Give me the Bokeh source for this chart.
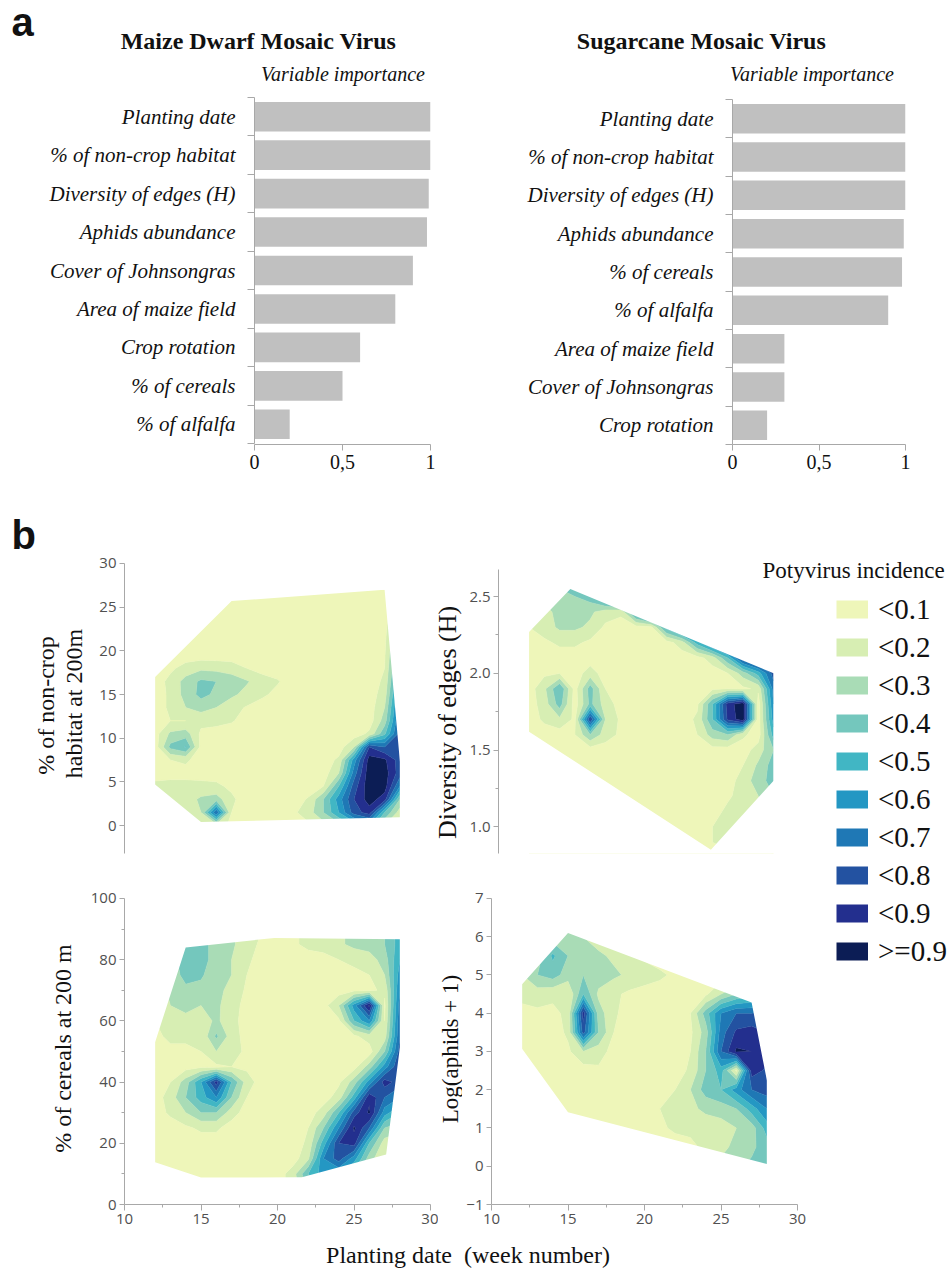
import numpy as np
from bokeh.plotting import figure
from bokeh.models import Range1d, FixedTicker, Label, Legend, LegendItem
from bokeh.layouts import column, row
from bokeh.core.properties import value
from bokeh.embed import file_html
from bokeh.resources import INLINE

SERIF = "Liberation Serif"
SANS = "Liberation Sans"
TICK_FONT = "Open Sans"
AXIS_GREY = "#a8a8a8"
TICK_TEXT = "#505050"
BAR_COLOR = "#c0c0c0"
INK = "#111111"

# ---------------- panel a : variable importance ----------------
mdmv_vars = ["Planting date", "% of non-crop habitat", "Diversity of edges (H)",
             "Aphids abundance", "Cover of Johnsongras", "Area of maize field",
             "Crop rotation", "% of cereals", "% of alfalfa"]
mdmv_imp = [1.0, 1.0, 0.99, 0.98, 0.90, 0.80, 0.60, 0.50, 0.20]

scmv_vars = ["Planting date", "% of non-crop habitat", "Diversity of edges (H)",
             "Aphids abundance", "% of cereals", "% of alfalfa",
             "Area of maize field", "Cover of Johnsongras", "Crop rotation"]
scmv_imp = [1.0, 1.0, 1.0, 0.99, 0.98, 0.90, 0.30, 0.30, 0.20]

imp_ticks = [0, 0.5, 1]
imp_tick_labels = ["0", "0,5", "1"]

# ---------------- panel b : potyvirus incidence ----------------
incid_levels = [0.0, 0.1, 0.2, 0.3, 0.4, 0.5, 0.6, 0.7, 0.8, 0.9, 1.01]
incid_labels = ["<0.1", "<0.2", "<0.3", "<0.4", "<0.5", "<0.6", "<0.7", "<0.8", "<0.9", ">=0.9"]
incid_colors = ["#eef6b9", "#d7eeb3", "#a9dcb6", "#74c7bd", "#41b6c4",
                "#2497c3", "#1f78b5", "#2352a1", "#232f8e", "#0c1d55"]

weeks = [12, 13, 14, 15, 16, 17, 18, 19, 20, 21, 22, 23, 24, 25, 26, 27, 28]

# incidence (%) read on a week x covariate grid, rows listed from top to bottom
noncrop_y = [27, 25.5, 24, 22.5, 21, 19.5, 18, 16.5, 15, 13.5, 12, 10.5, 9, 7.5, 6, 4.5, 3, 1.5, 0]
noncrop_z = [
    [5, 5, 5, 5, 5, 5, 5, 5, 5, 5, 5, 5, 5, 5, 5, 5, 12],
    [5, 5, 5, 5, 5, 5, 5, 5, 5, 5, 5, 5, 5, 5, 5, 5, 18],
    [5, 5, 5, 5, 5, 5, 5, 5, 5, 5, 5, 5, 5, 5, 5, 6, 24],
    [5, 5, 5, 5, 5, 5, 5, 5, 5, 5, 5, 5, 5, 5, 5, 7, 30],
    [5, 5, 5, 5, 5, 5, 5, 5, 5, 5, 5, 5, 5, 5, 5, 8, 37],
    [5, 5, 5, 5, 5, 5, 5, 5, 5, 5, 5, 5, 5, 5, 5, 9, 44],
    [5, 8, 14, 18, 17, 15, 10, 6, 5, 5, 5, 5, 5, 5, 5, 10, 50],
    [5, 13, 24, 32, 30, 26, 21, 15, 11, 5, 5, 5, 5, 5, 5, 12, 57],
    [5, 12, 24, 33, 28, 22, 17, 12, 7, 5, 5, 5, 5, 5, 5, 15, 63],
    [5, 12, 20, 24, 20, 14, 9, 5, 5, 5, 5, 5, 5, 5, 5, 20, 68],
    [5, 10, 10, 13, 14, 11, 6, 5, 5, 5, 5, 5, 5, 5, 5, 25, 72],
    [6, 22, 25, 8, 5, 5, 5, 5, 5, 5, 5, 5, 5, 5, 12, 38, 75],
    [5, 33, 41, 7, 5, 5, 5, 5, 5, 5, 5, 5, 5, 20, 80, 70, 75],
    [5, 10, 12, 5, 5, 5, 5, 5, 5, 5, 5, 5, 12, 55, 95, 92, 75],
    [7, 6, 6, 6, 6, 5, 5, 5, 5, 5, 5, 5, 20, 65, 97, 95, 75],
    [12, 14, 14, 13, 12, 8, 5, 5, 5, 5, 5, 10, 40, 75, 97, 95, 60],
    [10, 13, 15, 22, 25, 12, 5, 5, 5, 5, 11, 30, 55, 80, 95, 85, 30],
    [8, 10, 12, 20, 70, 10, 5, 5, 5, 8, 15, 30, 50, 75, 85, 40, 15],
    [5, 5, 8, 12, 15, 8, 5, 5, 5, 5, 8, 15, 25, 40, 50, 20, 8],
]
noncrop_hull_x = [12, 17, 27, 28, 28, 15, 12]
noncrop_hull_y = [17, 25.7, 27, 7.3, 0.95, 0.4, 4.7]

edges_y = [2.6, 2.5, 2.4, 2.3, 2.2, 2.1, 2.0, 1.9, 1.8, 1.7, 1.6, 1.5, 1.4, 1.3, 1.2, 1.1, 1.0, 0.9, 0.8]
edges_z = [
    [30, 30, 35, 40, 45, 50, 60, 70, 80, 90, 95, 100, 100, 100, 100, 100, 100],
    [25, 25, 25, 30, 35, 55, 80, 85, 90, 95, 100, 100, 100, 100, 100, 100, 100],
    [15, 15, 25, 25, 22, 15, 12, 50, 80, 90, 95, 100, 100, 100, 100, 100, 100],
    [10, 15, 22, 22, 18, 8, 6, 6, 8, 45, 70, 90, 95, 100, 100, 100, 100],
    [6, 8, 12, 12, 8, 5, 5, 5, 5, 6, 15, 45, 70, 90, 95, 100, 100],
    [5, 5, 5, 5, 5, 5, 5, 5, 5, 5, 5, 6, 15, 40, 80, 95, 100],
    [5, 8, 10, 5, 15, 5, 5, 5, 5, 5, 5, 5, 5, 10, 25, 45, 75],
    [5, 18, 40, 6, 35, 10, 5, 5, 5, 5, 5, 5, 8, 10, 8, 12, 65],
    [5, 15, 35, 5, 33, 15, 6, 5, 5, 5, 5, 8, 40, 85, 97, 5, 60],
    [5, 12, 18, 8, 80, 20, 8, 5, 5, 5, 5, 12, 40, 82, 97, 5, 55],
    [5, 5, 5, 10, 30, 15, 8, 5, 5, 5, 5, 10, 25, 30, 12, 5, 45],
    [5, 5, 5, 5, 5, 5, 5, 5, 5, 5, 5, 5, 6, 5, 5, 15, 30],
    [5, 5, 5, 5, 5, 5, 5, 5, 5, 5, 5, 5, 5, 5, 10, 22, 35],
    [5, 5, 5, 5, 5, 5, 5, 5, 5, 5, 5, 5, 5, 5, 15, 25, 35],
    [5, 5, 5, 5, 5, 5, 5, 5, 5, 5, 5, 5, 5, 8, 15, 20, 30],
    [5, 5, 5, 5, 5, 5, 5, 5, 5, 5, 5, 5, 5, 13, 15, 18, 25],
    [5, 5, 5, 5, 5, 5, 5, 5, 5, 5, 5, 5, 10, 12, 15, 15, 20],
    [5, 5, 5, 5, 5, 5, 5, 5, 5, 5, 5, 6, 10, 12, 12, 12, 15],
    [5, 5, 5, 5, 5, 5, 5, 5, 5, 5, 5, 5, 8, 8, 8, 8, 8],
]
edges_hull_x = [12, 14.7, 28, 28, 23.9, 12]
edges_hull_y = [2.27, 2.55, 2.0, 1.3, 0.85, 1.62]

cereals_y = [90, 85, 80, 75, 70, 65, 60, 55, 50, 45, 40, 35, 30, 25, 20, 15, 10, 5]
cereals_z = [
    [20, 28, 36, 34, 26, 22, 14, 10, 5, 8, 13, 15, 18, 23, 25, 30, 45],
    [20, 28, 36, 34, 26, 22, 14, 8, 5, 8, 13, 15, 18, 23, 25, 30, 45],
    [15, 25, 36, 35, 25, 20, 12, 6, 5, 5, 5, 6, 10, 12, 15, 25, 50],
    [15, 25, 33, 32, 22, 20, 10, 5, 5, 5, 5, 5, 5, 8, 10, 20, 55],
    [15, 22, 28, 26, 22, 18, 8, 5, 5, 5, 5, 5, 5, 8, 8, 12, 60],
    [12, 20, 22, 20, 22, 15, 6, 5, 5, 5, 5, 6, 20, 55, 93, 8, 65],
    [10, 18, 18, 15, 22, 14, 5, 5, 5, 5, 5, 5, 8, 40, 60, 10, 68],
    [8, 12, 12, 12, 32, 15, 6, 5, 5, 5, 5, 5, 5, 8, 15, 15, 70],
    [6, 8, 8, 10, 20, 14, 8, 5, 5, 5, 5, 5, 5, 6, 5, 30, 75],
    [5, 5, 6, 8, 8, 10, 8, 5, 5, 5, 5, 5, 5, 6, 25, 55, 80],
    [5, 10, 25, 50, 85, 40, 15, 5, 5, 5, 5, 5, 8, 25, 55, 85, 75],
    [5, 15, 30, 45, 60, 30, 10, 5, 5, 5, 5, 5, 15, 45, 88, 70, 60],
    [5, 12, 20, 30, 30, 15, 5, 5, 5, 5, 5, 15, 40, 75, 92, 55, 40],
    [5, 5, 8, 12, 12, 5, 5, 5, 5, 5, 10, 30, 60, 92, 70, 30, 25],
    [5, 5, 5, 5, 5, 5, 5, 5, 5, 5, 12, 45, 80, 85, 40, 15, 10],
    [5, 5, 5, 5, 5, 5, 5, 5, 5, 5, 18, 60, 75, 55, 25, 10, 8],
    [5, 5, 5, 5, 5, 5, 5, 5, 5, 15, 40, 55, 50, 35, 15, 8, 5],
    [5, 5, 5, 5, 5, 5, 5, 5, 5, 15, 30, 40, 40, 25, 10, 5, 5],
]
cereals_hull_x = [12, 14, 19.8, 28, 28, 27.1, 21.6, 15, 12]
cereals_hull_y = [53, 84, 87.1, 86.7, 51.4, 16.3, 8.9, 8.8, 13.8]

aphids_y = [6.5, 6.0, 5.5, 5.0, 4.5, 4.0, 3.5, 3.0, 2.5, 2.0, 1.5, 1.0, 0.5, 0.0]
aphids_z = [
    [10, 15, 25, 28, 20, 15, 10, 8, 5, 5, 5, 5, 5, 5, 5, 5, 5],
    [10, 15, 25, 28, 20, 15, 12, 8, 5, 5, 5, 5, 5, 5, 5, 5, 5],
    [12, 25, 42, 30, 25, 22, 18, 12, 8, 5, 5, 5, 5, 5, 5, 5, 5],
    [20, 30, 35, 25, 30, 25, 22, 18, 15, 12, 8, 5, 5, 5, 5, 5, 5],
    [15, 15, 12, 10, 40, 18, 12, 8, 6, 5, 5, 5, 8, 20, 30, 35, 40],
    [5, 8, 8, 12, 85, 25, 12, 5, 5, 5, 5, 10, 35, 60, 70, 70, 75],
    [5, 5, 5, 12, 75, 30, 10, 5, 5, 5, 5, 8, 25, 65, 82, 85, 80],
    [5, 5, 5, 8, 20, 15, 6, 5, 5, 5, 5, 10, 30, 70, 92, 90, 85],
    [5, 5, 5, 5, 5, 8, 5, 5, 5, 5, 5, 12, 30, 45, 8, 85, 78],
    [5, 5, 5, 5, 5, 5, 5, 5, 5, 6, 10, 20, 35, 40, 55, 70, 75],
    [5, 5, 5, 5, 5, 5, 5, 5, 5, 10, 15, 18, 22, 25, 30, 45, 60],
    [5, 5, 5, 5, 5, 5, 5, 5, 5, 8, 12, 12, 15, 15, 20, 25, 45],
    [5, 5, 5, 5, 5, 5, 5, 5, 5, 5, 5, 8, 12, 18, 22, 28, 35],
    [5, 5, 5, 5, 5, 5, 5, 5, 5, 5, 5, 8, 15, 22, 28, 32, 38],
]
aphids_hull_x = [12, 15, 27, 28, 28, 15, 12]
aphids_hull_y = [4.76, 6.1, 4.28, 2.24, 0.06, 1.41, 3.07]


# ---------------- helpers ----------------
def text_fig(W, H, bottom=0):
    # frame = whole canvas except an optional bottom border (kept equal to the row's plots)
    p = figure(width=W, height=H, x_range=Range1d(0, W), y_range=Range1d(0, H - bottom),
               x_axis_type=None, y_axis_type=None, min_border=0, min_border_bottom=bottom,
               output_backend="svg", toolbar_location=None)
    p.outline_line_color = None
    return p


def label(p, x, y, text, size, font=SERIF, style="normal", align="center", angle=0.0, color=INK):
    p.add_layout(Label(x=x, y=y, text=text, text_font=font, text_font_size=size,
                       text_font_style=style, text_align=align, text_baseline="middle",
                       angle=angle, text_color=color))


def bar_panel(vars_, imp, yr, W, H, left, fw, top, fh):
    n = len(vars_)
    centers = [n - 0.5 - i for i in range(n)]
    p = figure(width=W, height=H, x_range=Range1d(0, 1), y_range=Range1d(*yr),
               min_border_left=left, min_border_right=W - left - fw,
               min_border_top=top, min_border_bottom=H - top - fh,
               output_backend="svg", toolbar_location=None)
    p.hbar(y=centers, left=0, right=imp, height=0.77, fill_color=BAR_COLOR, line_color=None)
    p.grid.visible = False
    p.outline_line_color = None
    ya = p.yaxis[0]
    ya.ticker = FixedTicker(ticks=centers, minor_ticks=list(range(n + 1)))
    ya.bounds = (0, n)
    ya.major_label_overrides = {c: v for c, v in zip(centers, vars_)}
    ya.major_tick_line_color = None
    ya.major_tick_out = 0
    ya.major_tick_in = 0
    ya.minor_tick_out = 7
    ya.minor_tick_in = 0
    ya.minor_tick_line_color = AXIS_GREY
    ya.axis_line_color = AXIS_GREY
    ya.major_label_standoff = 12
    ya.major_label_text_font = SERIF
    ya.major_label_text_font_style = "italic"
    ya.major_label_text_font_size = "21px"
    ya.major_label_text_color = INK
    xa = p.xaxis[0]
    xa.ticker = FixedTicker(ticks=imp_ticks)
    xa.major_label_overrides = dict(zip(imp_ticks, imp_tick_labels))
    xa.major_tick_out = 6
    xa.major_tick_in = 0
    xa.major_tick_line_color = AXIS_GREY
    xa.axis_line_color = AXIS_GREY
    xa.major_label_standoff = 4
    xa.major_label_text_font = SERIF
    xa.major_label_text_font_size = "20px"
    xa.major_label_text_color = INK
    return p


def style_axis(ax, ticks, minor=None, labels=None, bounds=None):
    ax.ticker = FixedTicker(ticks=ticks, minor_ticks=minor or [])
    if labels is not None:
        ax.major_label_overrides = dict(zip(ticks, labels))
    if bounds is not None:
        ax.bounds = bounds
    ax.axis_line_color = AXIS_GREY
    ax.major_tick_line_color = AXIS_GREY
    ax.minor_tick_line_color = AXIS_GREY
    ax.major_tick_out = 5
    ax.major_tick_in = 0
    ax.minor_tick_out = 3
    ax.minor_tick_in = 0
    ax.major_label_standoff = 3
    ax.major_label_text_font = TICK_FONT
    ax.major_label_text_font_size = "15px"
    ax.major_label_text_color = TICK_TEXT


def contour_panel(ys_top_down, zpct, hull_x, hull_y, xr, yr, W, H, left, fw, top, fh, show_x):
    p = figure(width=W, height=H, x_range=Range1d(*xr), y_range=Range1d(*yr),
               min_border_left=left, min_border_right=W - left - fw,
               min_border_top=top, min_border_bottom=H - top - fh,
               output_backend="svg", toolbar_location=None)
    p.grid.visible = False
    p.outline_line_color = None
    yv = np.array(ys_top_down[::-1], dtype=float)
    zv = np.array(zpct[::-1], dtype=float) / 100.0
    p.contour(np.array(weeks, dtype=float), yv, zv, incid_levels,
              fill_color=incid_colors,
              line_color=[incid_colors[0]] + incid_colors, line_width=0.6)
    x0, x1 = xr
    y0, y1 = yr
    dx, dy = x1 - x0, y1 - y0
    outer_x = [x0 - dx, x1 + dx, x1 + dx, x0 - dx]
    outer_y = [y0 - dy, y0 - dy, y1 + dy, y1 + dy]
    p.multi_polygons(xs=[[[outer_x, list(hull_x)]]], ys=[[[outer_y, list(hull_y)]]],
                     fill_color="white", line_color=None)
    if not show_x:
        p.xaxis.visible = False
    else:
        style_axis(p.xaxis[0], [10, 15, 20, 25, 30], [12.5, 17.5, 22.5, 27.5], bounds=(10, 30))
        p.xaxis[0].major_tick_out = 6
    return p


def swatch_items(p, idx):
    # legend-only renderers: a single NaN point, so nothing is drawn in the plot itself
    items = []
    for i in idx:
        r = p.line(x=[np.nan], y=[np.nan], line_color=incid_colors[i], line_width=18)
        items.append(LegendItem(label=value(incid_labels[i]), renderers=[r]))
    return items


def swatch_legend(items, loc):
    return Legend(items=items, location=loc, orientation="vertical",
                  glyph_width=32, glyph_height=38, label_height=38, label_width=20,
                  label_standoff=10, spacing=0, padding=0, margin=0,
                  border_line_color=None, background_fill_alpha=0,
                  label_text_font=SERIF, label_text_font_size="29px",
                  label_text_color=INK)


# ---------------- header (panel a titles) ----------------
header = text_fig(950, 90)
label(header, 11, 69, "a", "40px", font=SANS, style="bold", align="left")
label(header, 258, 49.7, "Maize Dwarf Mosaic Virus", "24px", style="bold")
label(header, 342.5, 16.8, "Variable importance", "20px", style="italic")
label(header, 701, 49.7, "Sugarcane Mosaic Virus", "24px", style="bold")
label(header, 811.5, 16.8, "Variable importance", "20px", style="italic")

# ---------------- panel a (both frames span y 97..444 of the page) ----------------
barL = bar_panel(mdmv_vars, mdmv_imp, (-0.026, 9), 475, 410, 254, 176, 7, 347)
barR = bar_panel(scmv_vars, scmv_imp, (0, 9.052), 475, 410, 257, 173, 7, 347)

# ---------------- panel b, top row (frames span y 500..853) ----------------
txt_tl = text_fig(95, 360, bottom=7)
label(txt_tl, 11, 318.6, "b", "40px", font=SANS, style="bold", align="left")
label(txt_tl, 45, 148, "% of non-crop", "24px", angle=np.pi / 2)
label(txt_tl, 73.5, 150, "habitat at 200m", "24px", angle=np.pi / 2)

tl = contour_panel(noncrop_y, noncrop_z, noncrop_hull_x, noncrop_hull_y,
                   (10, 30), (-3.2, 37.21), 338, 360, 29, 306, 0, 353, False)
style_axis(tl.yaxis[0], [0, 5, 10, 15, 20, 25, 30], bounds=(-3.2, 30))

txt_tr = text_fig(29, 360, bottom=7)
label(txt_tr, 13.7, 131, "Diversity of edges (H)", "26px", angle=np.pi / 2)

tr = contour_panel(edges_y, edges_z, edges_hull_x, edges_hull_y,
                   (10, 39.58), (0.826, 3.126), 488, 360, 36, 452, 0, 353, False)
style_axis(tr.yaxis[0], [1.0, 1.5, 2.0, 2.5], [1.25, 1.75, 2.25], ["1.0", "1.5", "2.0", "2.5"],
           bounds=(0.826, 2.676))
label(tr, 27.28, 2.673, "Potyvirus incidence", "23px", align="left")
tr.add_layout(swatch_legend(swatch_items(tr, range(0, 7)), (338, -3)))

# ---------------- panel b, bottom row (frames span y 860..1204) ----------------
txt_bl = text_fig(85, 378, bottom=34)
label(txt_bl, 62.5, 156, "% of cereals at 200 m", "24px", angle=np.pi / 2)

bl = contour_panel(cereals_y, cereals_z, cereals_hull_x, cereals_hull_y,
                   (10, 30), (0, 112.4), 353, 378, 39, 306, 0, 344, True)
style_axis(bl.yaxis[0], [0, 20, 40, 60, 80, 100], [10, 30, 50, 70, 90], bounds=(0, 100))

txt_br = text_fig(24, 378, bottom=34)
label(txt_br, 12, 155.5, "Log(aphids + 1)", "23px", angle=np.pi / 2)

br = contour_panel(aphids_y, aphids_z, aphids_hull_x, aphids_hull_y,
                   (10, 40.0), (-1, 7.993), 488, 378, 29, 459, 0, 344, True)
style_axis(br.yaxis[0], [-1, 0, 1, 2, 3, 4, 5, 6, 7], bounds=(-1, 7))
br.add_layout(swatch_legend(swatch_items(br, range(7, 10)), (345, 234)))

# footer spans page y 1238..1268
footer = text_fig(950, 30)
label(footer, 467.5, 14, "Planting date \u00a0(week number)", "24px")

layout = column(header,
                row(barL, barR),
                row(txt_tl, tl, txt_tr, tr),
                row(txt_bl, bl, txt_br, br),
                footer)

with open("out.html", "w") as f:
    f.write(file_html(layout, INLINE))
